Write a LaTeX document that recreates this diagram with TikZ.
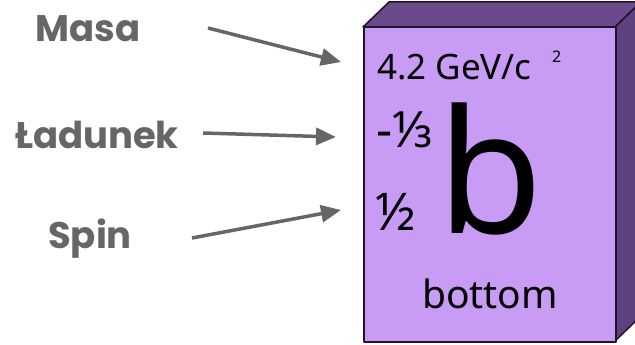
\documentclass[tikz,border=0pt]{standalone}
\usepackage{fontspec}
\usepackage{tikz}
\usetikzlibrary{
  arrows.meta,
  positioning
}
\newfontfamily\labelfont{Poppins}
\newfontfamily\cardfont{Noto Sans}
\definecolor{frontpurple}{RGB}{200, 155, 245}
\definecolor{toppurple}{RGB}{106, 74, 138}
\definecolor{sidepurple}{RGB}{94, 66, 128}
\definecolor{arrowgray}{RGB}{102, 102, 102}
\definecolor{edgedark}{RGB}{30, 20, 40}

\begin{document}
\begin{tikzpicture}[
  x=1pt, y=-1pt,
  prop/.style={font=\labelfont\bfseries\fontsize{37}{37}\selectfont, text=arrowgray, inner sep=0pt, anchor=base},
  card/.style={font=\cardfont\fontsize{#1}{#1}\selectfont, text=black, inner sep=0pt, anchor=base west},
  arrow/.style={-{Triangle[length=20pt, width=17pt]}, line width=3.5pt, color=arrowgray},
  face/.style={draw=edgedark, line width=1.5pt, line join=round}
]
\useasboundingbox (0,0) rectangle (635,345);
\clip (0,0) rectangle (635,345);

% Cube faces
\draw[face, fill=toppurple] (363,27) -- (389,2) -- (641,2) -- (615,27) -- cycle;
\draw[face, fill=sidepurple] (615,27) -- (641,2) -- (641,316) -- (615,341) -- cycle;
\node[face, fill=frontpurple, rectangle, minimum width=252pt, minimum height=314pt, anchor=north west] (front) at (363,27) {};

% Card texts
\node[card=35] (mass) at (377,80) {4.2 GeV/c};
\node[card=16] (masssup) at (552,63) {2};
\node[card=50] (charge) at (376,147) {-⅓};
\node[card=52] (spinval) at (375,230) {½};
\node[card=172] (symbol) at (437,233) {b};
\node[card=39, anchor=base] (name) at (490,308) {bottom};

% Property labels
\node[prop] (masa) at (88,42) {Masa};
\node[prop] (ladunek) at (97,148) {Ładunek};
\node[prop] (spin) at (90,248) {Spin};

% Arrow ends
\coordinate (masastart) at (208,28);
\coordinate (masaend) at (341,62);
\coordinate (ladunekstart) at (203,133);
\coordinate (ladunekend) at (336,137);
\coordinate (spinstart) at (192,238);
\coordinate (spinend) at (341,210);

% Arrows
\draw[arrow] (masastart) -- (masaend);
\draw[arrow] (ladunekstart) -- (ladunekend);
\draw[arrow] (spinstart) -- (spinend);

\end{tikzpicture}
\end{document}
